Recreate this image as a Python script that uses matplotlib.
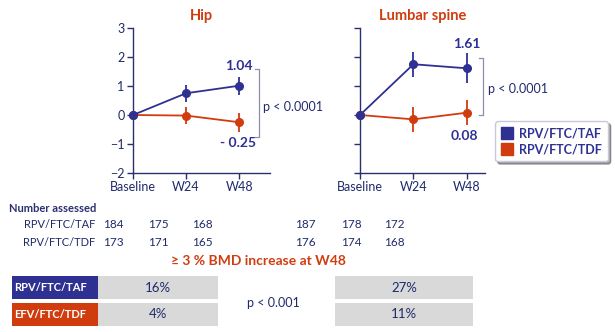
import matplotlib.pyplot as plt
from matplotlib.lines import Line2D

plt.rcParams['font.family'] = ['Lato', 'DejaVu Sans']

visits = ["Baseline", "W24", "W48"]
hip_taf = [0, 0.75, 1.01]
hip_taf_err = [0, 0.30, 0.31]
hip_tdf = [0, -0.02, -0.25]
hip_tdf_err = [0, 0.30, 0.32]
spine_taf = [0, 1.75, 1.61]
spine_taf_err = [0, 0.43, 0.52]
spine_tdf = [0, -0.15, 0.08]
spine_tdf_err = [0, 0.43, 0.43]

arms = ["RPV/FTC/TAF", "RPV/FTC/TDF"]
n_hip_taf = [184, 175, 168]
n_hip_tdf = [173, 171, 165]
n_spine_taf = [187, 178, 172]
n_spine_tdf = [176, 174, 168]

pct_arms = ["RPV/FTC/TAF", "EFV/FTC/TDF"]
pct_hip = [16, 4]
pct_spine = [27, 11]

BLUE = "#2e3192"
ORANGE = "#d13c0f"
NAVY = "#2a2f6e"
TEXT = "#1f2a6b"
GRAY = "#d9d9d9"

W, H = 615, 332
fig = plt.figure(figsize=(W / 100, H / 100), dpi=100)


def px_axes(x0, x1, ytop, ybot):
    return fig.add_axes([x0 / W, 1 - ybot / H, (x1 - x0) / W, (ybot - ytop) / H])


def panel(ax, taf, taf_err, tdf, tdf_err, xmax, title, ticklabels=True):
    x = range(len(visits))
    ax.errorbar(x, tdf, yerr=tdf_err, color=ORANGE, marker="o", ms=5.5,
                lw=1.3, elinewidth=1.3, capsize=0, clip_on=False, zorder=3)
    ax.errorbar(x, taf, yerr=taf_err, color=BLUE, marker="o", ms=5.5,
                lw=1.3, elinewidth=1.3, capsize=0, clip_on=False, zorder=4)
    ax.set_xlim(0, xmax)
    ax.set_ylim(-2, 3)
    ax.set_yticks(range(-2, 4))
    ax.set_xticks(list(x))
    ax.set_xticklabels(visits)
    if not ticklabels:
        ax.set_yticklabels([])
    for s in ["top", "right"]:
        ax.spines[s].set_visible(False)
    for s in ["left", "bottom"]:
        ax.spines[s].set_color(NAVY)
        ax.spines[s].set_linewidth(1.0)
    ax.tick_params(colors=NAVY, labelcolor=TEXT, labelsize=9, length=4, width=1, pad=2)
    ax.set_facecolor("none")
    ax.set_title(title, color=ORANGE, fontweight="bold", fontsize=10.5, pad=6)


ax1 = px_axes(133, 270, 28, 173)
panel(ax1, hip_taf, hip_taf_err, hip_tdf, hip_tdf_err, 2.58, "Hip")
ax2 = px_axes(360, 485, 28, 173)
panel(ax2, spine_taf, spine_taf_err, spine_tdf, spine_tdf_err, 2.34, "Lumbar spine", False)

# value labels and brackets
ax1.text(2, 1.69, "1.04", color=BLUE, fontweight="bold", fontsize=10, ha="center", va="center")
ax1.text(1.98, -0.96, "- 0.25", color=BLUE, fontweight="bold", fontsize=10, ha="center", va="center")
ax1.plot([2.3, 2.38, 2.38, 2.3], [1.59, 1.59, -0.76, -0.76], color="#8a8fb0", lw=0.9, clip_on=False)
ax1.text(2.45, 0.28, "p < 0.0001", color=TEXT, fontsize=9, va="center")

ax2.text(2, 2.45, "1.61", color=BLUE, fontweight="bold", fontsize=10, ha="center", va="center")
ax2.text(1.95, -0.72, "0.08", color=BLUE, fontweight="bold", fontsize=10, ha="center", va="center")
ax2.plot([2.22, 2.3, 2.3, 2.22], [1.96, 1.96, 0, 0], color="#8a8fb0", lw=0.9, clip_on=False)
ax2.text(2.4, 0.9, "p < 0.0001", color=TEXT, fontsize=9, va="center")

handles = [Line2D([], [], ls="", marker="s", ms=9, color=c) for c in (BLUE, ORANGE)]
leg = fig.legend(handles, arms, loc="upper left", bbox_to_anchor=(495 / W, 1 - 121 / H),
                 frameon=True, fancybox=True, shadow=True, fontsize=9, handlelength=0.9,
                 handletextpad=0.5, borderpad=0.5, labelspacing=0.3, borderaxespad=0)
for t in leg.get_texts():
    t.set_color(BLUE)
    t.set_fontweight("bold")
leg.get_frame().set_edgecolor("#c8c8d8")

# overlay in pixel coordinates
ov = fig.add_axes([0, 0, 1, 1], zorder=-1)
ov.set_xlim(0, W)
ov.set_ylim(H, 0)
ov.axis("off")

ov.text(9, 208, "Number assessed", color=NAVY, fontweight="bold", fontsize=8, va="center")
for row, (lab, nh, ns) in enumerate(zip(arms, [n_hip_taf, n_hip_tdf], [n_spine_taf, n_spine_tdf])):
    y = 224 + row * 18
    ov.text(95, y, lab, color=TEXT, fontsize=8, ha="right", va="center")
    for xc, v in zip([113, 158, 202], nh):
        ov.text(xc, y, str(v), color=TEXT, fontsize=8.5, ha="center", va="center")
    for xc, v in zip([305, 351, 394], ns):
        ov.text(xc, y, str(v), color=TEXT, fontsize=8.5, ha="center", va="center")

ov.text(258, 261, "≥ 3 % BMD increase at W48", color=ORANGE, fontweight="bold",
        fontsize=10, ha="center", va="center")

box_colors = [BLUE, ORANGE]
for row, lab in enumerate(pct_arms):
    yc = 287.5 + row * 26.5
    ov.barh(yc, 86, left=12, height=23, color=box_colors[row])
    ov.barh(yc, 120, left=98, height=23, color=GRAY)
    ov.barh(yc, 138, left=335, height=23, color=GRAY)
    ov.text(14, yc, lab, color="white", fontweight="bold", fontsize=8, va="center")
    ov.text(158, yc, f"{pct_hip[row]}%", color=TEXT, fontsize=9.5, ha="center", va="center")
    ov.text(404, yc, f"{pct_spine[row]}%", color=TEXT, fontsize=9.5, ha="center", va="center")
ov.text(273, 303, "p < 0.001", color=TEXT, fontsize=9, ha="center", va="center")

fig.savefig("out.png", dpi=100)
